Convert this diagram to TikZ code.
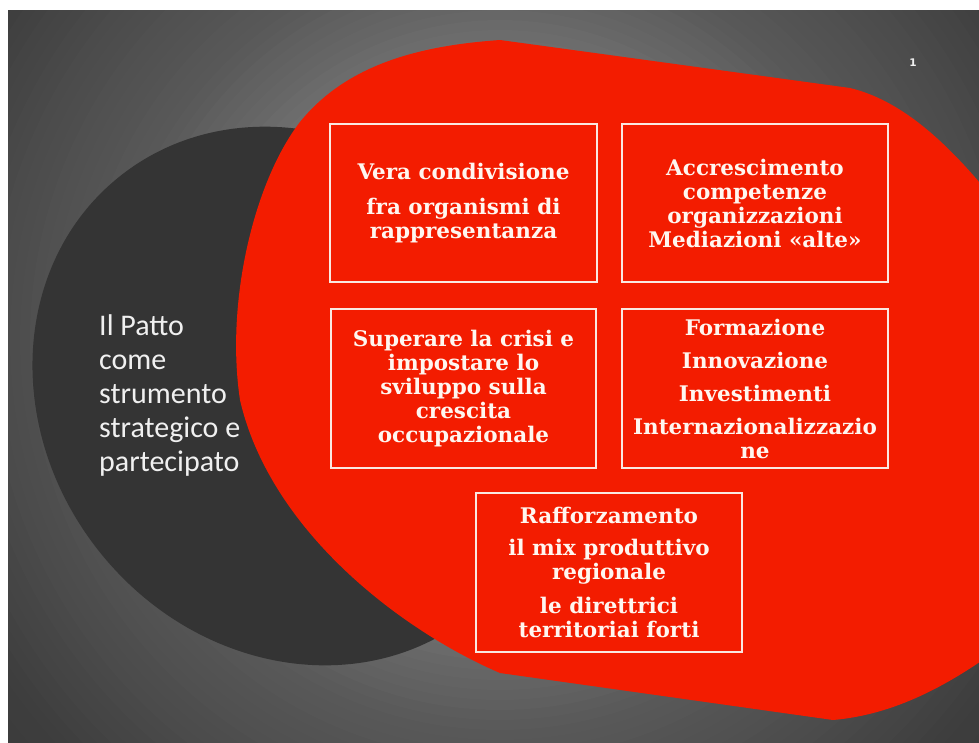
\documentclass[tikz,border=0pt]{standalone}
\usepackage{fontspec}
\newfontfamily\boxfont{DejaVu Serif}
\newfontfamily\leftfont{Carlito}
\newfontfamily\numfont{DejaVu Sans}
\definecolor{slidered}{RGB}{243,28,0}
\definecolor{darkdisc}{RGB}{52,52,52}
\definecolor{boxline}{RGB}{250,232,225}
\definecolor{boxtext}{RGB}{255,246,240}
\definecolor{lefttext}{RGB}{240,240,240}
\begin{document}
\begin{tikzpicture}[x=1pt,y=-1pt,
  idea/.style={draw=boxline, line width=1.4pt, text=boxtext,
    font=\boxfont\bfseries\fontsize{21.5}{24}\selectfont, align=center,
    inner sep=0pt, minimum width=266pt, minimum height=158pt}]
\useasboundingbox (0,0) rectangle (979,742);
\fill[white] (0,0) rectangle (979,742);
\begin{scope}
\clip (8,10) rectangle (979,742);
\foreach \r in {720,710,...,10} {
  \pgfmathsetmacro\g{\r<300 ? 110 : (\r<400 ? 110-22*(\r-300)/100 : (\r<500 ? 88-12*(\r-400)/100 : (\r<600 ? 76-14*(\r-500)/100 : 62-6*(\r-600)/120)))}
  \pgfmathsetmacro\gv{\g/255}
  \definecolor{bgtmp}{gray}{\gv}
  \fill[bgtmp] (500,340) circle [radius=\r pt];
}
\fill[darkdisc, shift={(295,396)}, rotate=-51.3] (0,0) ellipse [x radius=281pt, y radius=250pt];
\fill[slidered] (500,40) -- (850,88) .. controls (900,100) and (945,140) .. (990,195)
  -- (990,655) .. controls (940,690) and (890,715) .. (833,720)
  -- (500,673) .. controls (400,630) and (270,530) .. (240,400)
  .. controls (225,300) and (255,180) .. (300,122)
  .. controls (350,60) and (430,45) .. (500,40) -- cycle;
\end{scope}
\node[idea, minimum width=267pt] (b1) at (463.5,203) {Vera condivisione\\[11pt]fra organismi di\\rappresentanza};
\node[idea] (b2) at (755,203) {Accrescimento\\competenze\\organizzazioni\\Mediazioni «alte»};
\node[idea, minimum width=265pt, minimum height=159pt] (b3) at (463.5,388.5) {Superare la crisi e\\impostare lo\\sviluppo sulla\\crescita\\occupazionale};
\node[idea, minimum height=159pt] (b4) at (755,388.5) {Formazione\\[9pt]Innovazione\\[9pt]Investimenti\\[9pt]Internazionalizzazio\\ne};
\node[idea, minimum height=159pt] (b5) at (609,572.5) {Rafforzamento\\[8pt]il mix produttivo\\regionale\\[10pt]le direttrici\\territoriai forti};
\node[anchor=north west, inner sep=0pt, align=left, text=lefttext,
  font=\leftfont\fontsize{30}{34}\selectfont] (patto) at (99,314) {Il Patto\\come\\strumento\\strategico e\\partecipato};
\node[text=lefttext, font=\numfont\bfseries\fontsize{10.5}{12}\selectfont] (num) at (913,63) {1};
\end{tikzpicture}
\end{document}
